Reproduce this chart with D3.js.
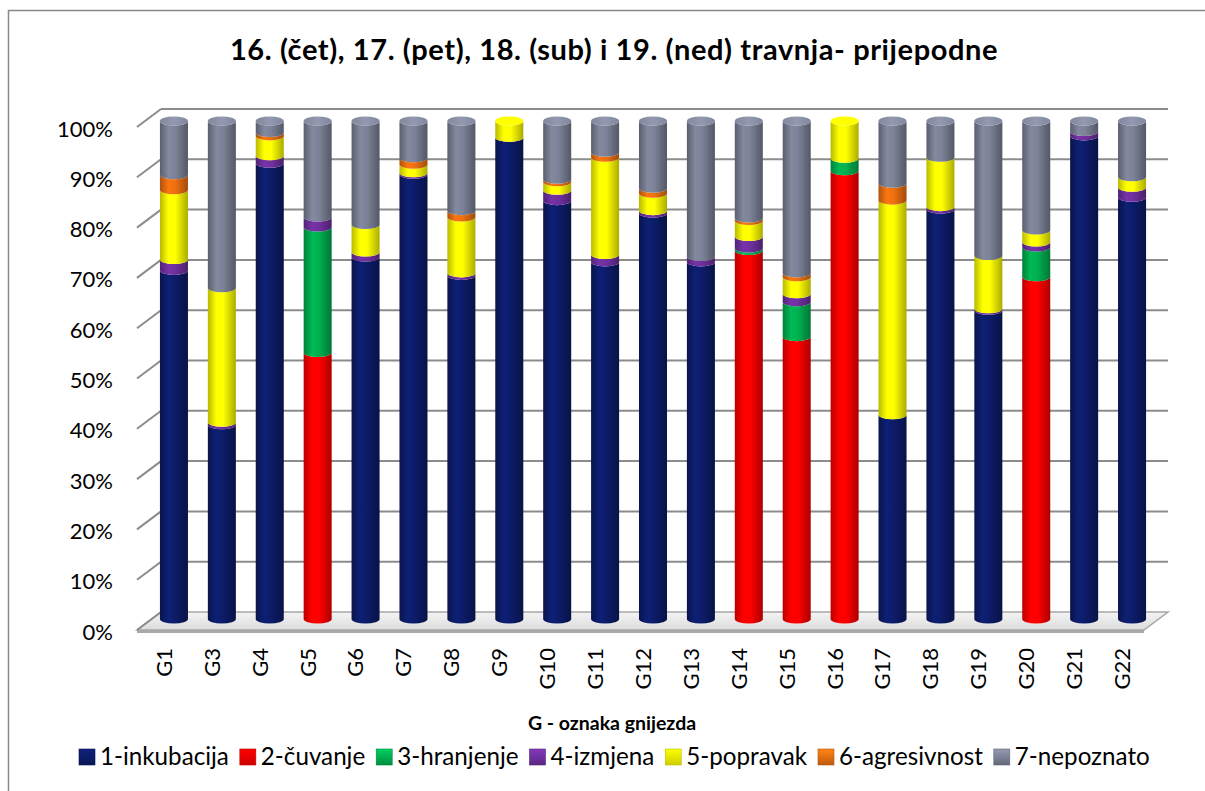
<!DOCTYPE html>
<html>
<head>
<meta charset="utf-8">
<script src="https://cdn.jsdelivr.net/npm/d3@7"></script>
<style>
  html,body{margin:0;padding:0;background:#fff;}
  svg{display:block;font-family:"Lato","Noto Sans",sans-serif;}
</style>
</head>
<body>
<script>
// ---------------- DATA ----------------
const title = "16. (čet), 17. (pet), 18. (sub) i 19. (ned) travnja- prijepodne";
const xAxisTitle = "G - oznaka gnijezda";
const categories = ["G1","G3","G4","G5","G6","G7","G8","G9","G10","G11","G12","G13","G14","G15","G16","G17","G18","G19","G20","G21","G22"];
const seriesNames = ["1-inkubacija","2-čuvanje","3-hranjenje","4-izmjena","5-popravak","6-agresivnost","7-nepoznato"];
const seriesColors = ["#0c1c68","#ff0000","#00b050","#7030a0","#ffff00","#ee7010","#7c8297"];
const yTicks = [0,10,20,30,40,50,60,70,80,90,100];

const inkubacija  = [70, 39, 91.5, 0, 72.7, 89.3, 69, 96.7, 84, 71.7, 81.5, 71.7, 0, 0, 0, 41, 82.3, 62, 0, 97, 84.7];
const cuvanje     = [0, 0, 0, 53.5, 0, 0, 0, 0, 0, 0, 0, 0, 74, 56.7, 90, 0, 0, 0, 68.7, 0, 0];
const hranjenje   = [0, 0, 0, 25.2, 0, 0, 0, 0, 0, 0, 0, 0, 0.5, 7, 2.5, 0, 0, 0, 6, 0, 0];
const izmjena     = [2.2, 0.5, 1.5, 2, 1, 0.3, 0.5, 0, 2.1, 1.5, 0.5, 1.1, 2.3, 1.6, 0, 0, 0.5, 0.3, 1, 0.9, 2];
const popravak    = [14, 27, 4, 0, 5.5, 1.7, 11.2, 3.3, 1.7, 19.5, 3.5, 0, 3.2, 3.4, 7.5, 43.1, 9.9, 10.7, 2.4, 0, 2.1];
const agresivnost = [3, 0, 0.7, 0, 0, 1.3, 1.3, 0, 0.5, 1, 1, 0, 0.5, 0.8, 0, 3.4, 0, 0, 0, 0, 0];
const nepoznato   = [10.8, 33.5, 2.3, 19.3, 20.8, 7.4, 18, 0, 11.7, 6.3, 13.5, 27.2, 19.5, 30.5, 0, 12.5, 7.3, 27, 21.9, 2.1, 11.2];

const seriesValues = [inkubacija, cuvanje, hranjenje, izmjena, popravak, agresivnost, nepoznato];

// ---------------- LAYOUT ----------------
const W = 1205, H = 791;
const svg = d3.select("body").append("svg").attr("width", W).attr("height", H);
const defs = svg.append("defs");

svg.append("rect").attr("x",8.5).attr("y",10.5).attr("width",W).attr("height",H)
   .attr("fill","#fff").attr("stroke","#898989").attr("stroke-width",1.5);

const wallLeft = 161, wallRight = 1168, depthDx = 24;
const yBack  = d3.scaleLinear().domain([0,100]).range([612,109]);
const yFront = d3.scaleLinear().domain([0,100]).range([630,127]);
const yBar   = d3.scaleLinear().domain([0,100]).range([619,121]);
const x = d3.scaleBand().domain(categories).range([150,1156]).paddingInner(0.415).paddingOuter(0.2075);
const bw = x.bandwidth(), rx = bw/2, ry = 4.5;

// gradients
seriesColors.forEach((c,i)=>{
  const base = d3.color(c);
  const g = defs.append("linearGradient").attr("id","cyl"+i).attr("x1","0").attr("x2","1").attr("y1","0").attr("y2","0");
  const dk = 0.9;
  g.append("stop").attr("offset","0%").attr("stop-color", base.darker(dk));
  g.append("stop").attr("offset","30%").attr("stop-color", base.brighter(i===0?0.35:0.15));
  g.append("stop").attr("offset","55%").attr("stop-color", base);
  g.append("stop").attr("offset","100%").attr("stop-color", base.darker(dk+0.2));
  const cg = defs.append("linearGradient").attr("id","cap"+i).attr("x1","0").attr("x2","1").attr("y1","0").attr("y2","0");
  cg.append("stop").attr("offset","0%").attr("stop-color", base.brighter(0.1));
  cg.append("stop").attr("offset","50%").attr("stop-color", base.brighter(0.45));
  cg.append("stop").attr("offset","100%").attr("stop-color", base.brighter(0.1));
  const lg = defs.append("linearGradient").attr("id","leg"+i).attr("x1","0").attr("x2","0").attr("y1","0").attr("y2","1");
  lg.append("stop").attr("offset","0%").attr("stop-color", base.brighter(0.5));
  lg.append("stop").attr("offset","100%").attr("stop-color", base.darker(0.6));
});
const fg = defs.append("linearGradient").attr("id","floorG").attr("x1","0").attr("x2","0").attr("y1","0").attr("y2","1");
fg.append("stop").attr("offset","0%").attr("stop-color","#f4f4f4");
fg.append("stop").attr("offset","100%").attr("stop-color","#dcdcdc");

// floor
const y0f = yFront(0), y0b = yBack(0);
svg.append("path")
  .attr("d", `M${wallLeft-depthDx},${y0f} L${wallRight-depthDx},${y0f} L${wallRight},${y0b} L${wallLeft},${y0b} Z`)
  .attr("fill","url(#floorG)").attr("stroke","#a6a6a6").attr("stroke-width",1.5);
svg.append("rect").attr("x",wallLeft-depthDx).attr("y",y0f).attr("width",wallRight-wallLeft).attr("height",3)
  .attr("fill","#a9a9a9");

// gridlines
const grid = svg.append("g").attr("stroke","#8c8c8c").attr("stroke-width",2).attr("fill","none");
yTicks.forEach(t=>{
  if (t>0) grid.append("line").attr("x1",wallLeft).attr("x2",wallRight).attr("y1",yBack(t)).attr("y2",yBack(t));
  grid.append("line").attr("x1",wallLeft-depthDx).attr("y1",yFront(t)).attr("x2",wallLeft).attr("y2",yBack(t));
});

// stacked data
const rows = categories.map((c,i)=>{
  const r = {cat:c};
  seriesNames.forEach((s,j)=> r[s] = seriesValues[j][i]);
  return r;
});
const stacked = d3.stack().keys(seriesNames)(rows);

function segPath(cx, yb, yt){
  const l = cx - rx, r = cx + rx;
  return `M${l},${yt} L${l},${yb} A${rx},${ry} 0 0 0 ${r},${yb} L${r},${yt} A${rx},${ry} 0 0 1 ${l},${yt} Z`;
}

const barsG = svg.append("g");
categories.forEach((c,ci)=>{
  const cx = x(c) + bw/2;
  const g = barsG.append("g");
  let topIdx = -1;
  stacked.forEach((layer,si)=>{
    const d = layer[ci];
    if (d[1]-d[0] <= 0) return;
    topIdx = si;
    g.append("path").attr("d", segPath(cx, yBar(d[0]), yBar(d[1]))).attr("fill","url(#cyl"+si+")");
  });
  if (topIdx>=0){
    const d = stacked[topIdx][ci];
    g.append("ellipse").attr("cx",cx).attr("cy",yBar(d[1])).attr("rx",rx).attr("ry",ry)
      .attr("fill","url(#cap"+topIdx+")");
  }
});

// y axis
const yAxis = d3.axisLeft(yFront).tickValues(yTicks).tickFormat(d=>d+"%").tickSize(0).tickPadding(24);
const yg = svg.append("g").attr("transform",`translate(${wallLeft-depthDx},2)`).call(yAxis);
yg.select(".domain").remove();
yg.selectAll("text").attr("font-size",22).attr("fill","#000").attr("font-family","Lato");

// x axis
const xAxis = d3.axisBottom(x).tickSize(0).tickPadding(0);
const xg = svg.append("g").attr("transform",`translate(-10,648)`).call(xAxis);
xg.select(".domain").remove();
xg.selectAll("text").attr("transform","rotate(-90)").attr("x",0).attr("y",0).attr("dy","0.36em")
  .attr("text-anchor","end").attr("font-size",22).attr("fill","#000").attr("font-family","Lato");

// title
svg.append("text").attr("x",614).attr("y",60).attr("text-anchor","middle")
  .attr("font-weight","bold").attr("font-size",29).attr("letter-spacing",0.6).attr("font-family","Lato").text(title);

// x axis title
svg.append("text").attr("x",612).attr("y",730).attr("text-anchor","middle")
  .attr("font-weight","bold").attr("font-size",19.5).attr("font-family","Lato").text(xAxisTitle);

// legend
const leg = svg.append("g").attr("transform","translate(79,765)");
let lx = 0;
seriesNames.forEach((s,i)=>{
  const it = leg.append("g").attr("transform",`translate(${lx},0)`);
  it.append("rect").attr("x",0).attr("y",-16).attr("width",16).attr("height",16)
    .attr("fill","url(#leg"+i+")").attr("stroke",d3.color(seriesColors[i]).darker(0.8)).attr("stroke-width",0.6);
  const t = it.append("text").attr("x",21).attr("y",0).attr("font-size",24.2).attr("font-family","Lato").text(s);
  lx += 21 + t.node().getComputedTextLength() + 11;
});
</script>
</body>
</html>
